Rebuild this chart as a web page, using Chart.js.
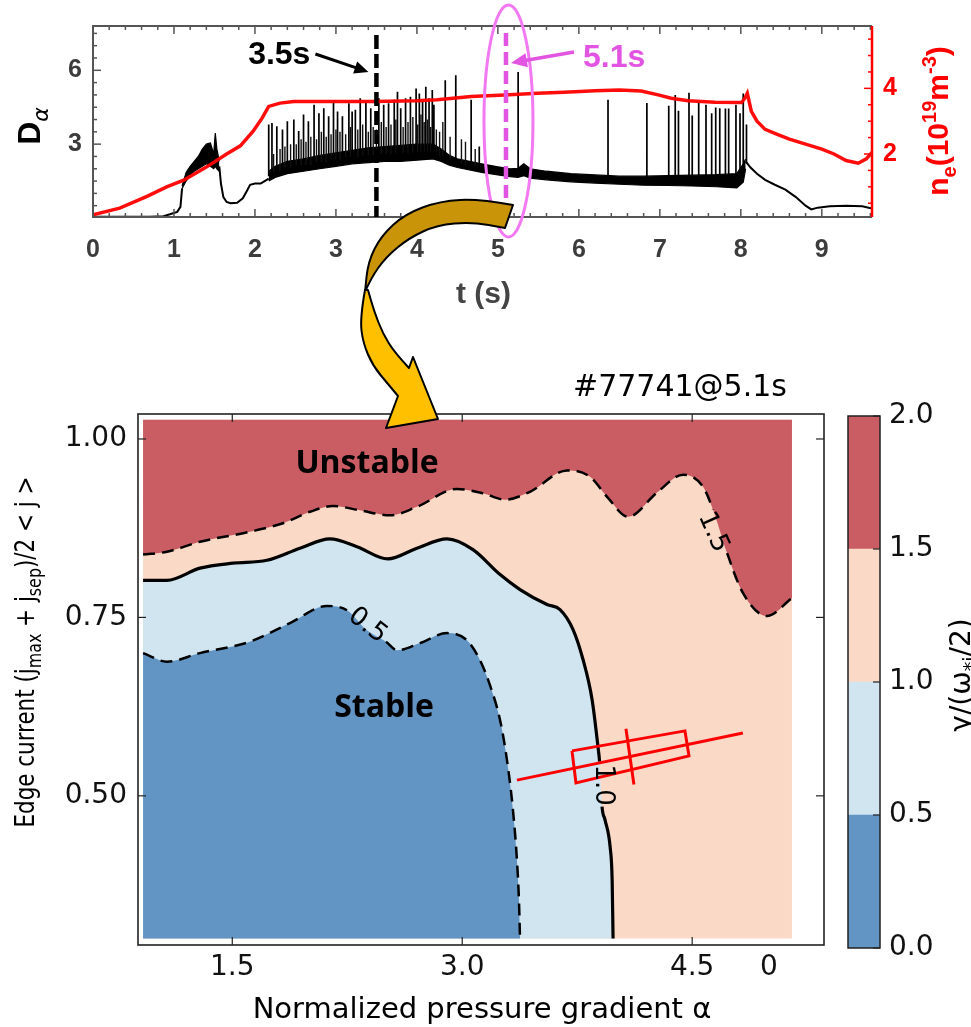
<!DOCTYPE html>
<html lang="en">
<head>
<meta charset="UTF-8">
<title>Dα trace and edge stability diagram</title>
<script src="https://cdn.jsdelivr.net/npm/chart.js@4.4.1/dist/chart.umd.min.js"></script>
<style>
  body { margin: 0; background: #fff; }
  #wrap { position: relative; width: 971px; height: 1027px; overflow: hidden; }
  canvas { position: absolute; }
  #traceChart { left: 0; top: 0; }
  #mapChart { left: 0; top: 0; }
  #barChart { left: 820px; top: 380px; }
</style>
</head>
<body>
<div id="wrap">
  <canvas id="traceChart" width="971" height="320"></canvas>
  <canvas id="mapChart" width="971" height="1027"></canvas>
  <canvas id="barChart" width="151" height="620"></canvas>
</div>

<script>
// ---------- top panel: D-alpha and line density vs time ----------
const timeTicks = [0, 1, 2, 3, 4, 5, 6, 7, 8, 9];
const dalphaTicks = [3, 6];
const neTicks = [2, 4];
const markTimes = [3.5, 5.1];
const markNames = ['3.5s', '5.1s'];

// line-averaged density (10^19 m^-3)
const neTime = [0, 0.33, 0.66, 0.91, 1.12, 1.4, 1.65, 1.82, 1.98, 2.09, 2.17, 2.31, 2.48, 3.0, 3.47, 4.0, 4.25, 4.67, 5.08, 5.49, 5.82, 6.2, 6.5, 6.77, 6.98, 7.14, 7.35, 7.68, 8.01, 8.05, 8.08, 8.13, 8.2, 8.3, 8.45, 8.6, 8.8, 9.0, 9.15, 9.3, 9.45, 9.55, 9.62];
const neValue = [0.15, 0.35, 0.7, 1.0, 1.2, 1.6, 2.0, 2.25, 2.7, 3.1, 3.45, 3.55, 3.6, 3.6, 3.6, 3.62, 3.65, 3.75, 3.8, 3.85, 3.88, 3.93, 3.95, 3.92, 3.8, 3.7, 3.62, 3.58, 3.57, 3.7, 3.85, 3.3, 3.0, 2.75, 2.6, 2.45, 2.3, 2.15, 2.0, 1.8, 1.72, 1.85, 2.05];

// D-alpha, quiet parts of the trace
const earlyTime = [0, 0.7, 0.87, 0.95, 1.04, 1.08, 1.1];
const earlyDa = [0.05, 0.05, 0.07, 0.15, 0.25, 0.45, 1.2];
const dipTime = [1.56, 1.58, 1.61, 1.65, 1.7, 1.78, 1.85, 1.9, 1.94, 2.0, 2.07, 2.12, 2.17];
const dipDa = [2.1, 1.4, 0.85, 0.65, 0.6, 0.62, 0.8, 1.1, 1.35, 1.4, 1.4, 1.5, 1.6];
const tailTime = [8.06, 8.12, 8.2, 8.3, 8.42, 8.55, 8.68, 8.8, 8.87, 8.95, 9.1, 9.3, 9.5, 9.62];
const tailDa = [2.3, 2.05, 1.8, 1.55, 1.35, 1.15, 0.85, 0.5, 0.35, 0.42, 0.48, 0.5, 0.48, 0.38];

// D-alpha, noisy bands (lower / upper envelope)
const lmodeTime = [1.1, 1.15, 1.2, 1.25, 1.3, 1.35, 1.4, 1.45, 1.49, 1.51, 1.53, 1.56];
const lmodeLow = [1.2, 1.5, 1.75, 1.9, 2.0, 2.1, 2.2, 2.1, 2.0, 2.1, 2.0, 1.9];
const lmodeHigh = [1.3, 1.85, 2.1, 2.3, 2.5, 2.8, 3.0, 3.05, 2.6, 3.45, 2.8, 2.3];
const hmodeTime = [2.17, 2.25, 2.4, 2.6, 2.8, 3.0, 3.2, 3.4, 3.6, 3.8, 4.0, 4.2, 4.3, 4.4, 4.5, 4.65, 4.8, 5.0, 5.15, 5.25, 5.32, 5.4, 5.6, 5.9, 6.2, 6.5, 6.8, 7.1, 7.4, 7.7, 7.95, 8.03, 8.06];
const hmodeLow = [1.5, 1.65, 1.8, 1.9, 2.0, 2.1, 2.2, 2.25, 2.3, 2.3, 2.35, 2.4, 2.3, 2.15, 2.05, 1.95, 1.85, 1.75, 1.68, 1.65, 1.72, 1.62, 1.55, 1.47, 1.42, 1.37, 1.33, 1.32, 1.3, 1.27, 1.22, 1.45, 2.0];
const hmodeHigh = [1.9, 2.1, 2.3, 2.4, 2.55, 2.65, 2.75, 2.85, 2.9, 2.95, 3.0, 3.0, 2.8, 2.55, 2.4, 2.3, 2.2, 2.08, 2.0, 2.02, 2.2, 2.0, 1.9, 1.8, 1.75, 1.7, 1.7, 1.72, 1.74, 1.76, 1.8, 2.2, 2.4];

// ELM spikes: time and peak height
const elmTime = [2.17, 2.21, 2.27, 2.34, 2.40, 2.48, 2.54, 2.60, 2.66, 2.73, 2.79, 2.85, 2.91, 2.97, 3.02, 3.08, 3.16, 3.20, 3.24, 3.30, 3.37, 3.43, 3.53, 3.59, 3.65, 3.72, 3.76, 3.80, 3.86, 3.92, 3.99, 4.03, 4.07, 4.11, 4.15, 4.19, 4.21, 4.35, 4.48, 4.67, 4.77, 5.25, 6.36, 6.84, 7.11, 7.19, 7.23, 7.36, 7.40, 7.48, 7.57, 7.64, 7.69, 7.74, 7.81, 7.85, 7.94, 7.99, 8.03, 8.07];
const elmPeak = [3.8, 3.86, 3.73, 3.6, 3.93, 4.0, 3.53, 4.2, 3.93, 4.6, 4.26, 4.46, 4.13, 4.73, 4.33, 4.13, 4.66, 4.33, 4.4, 4.86, 4.73, 4.46, 4.86, 4.6, 4.66, 4.8, 5.13, 4.46, 4.86, 4.93, 5.26, 5.06, 4.73, 5.33, 4.86, 5.2, 4.6, 5.6, 5.8, 4.8, 2.9, 5.93, 4.8, 4.67, 4.56, 5.0, 4.36, 5.09, 4.16, 4.67, 4.6, 4.26, 4.49, 4.46, 4.45, 4.45, 4.6, 4.26, 5.06, 3.8];
// smaller bursts between the large ELMs
const grassTime = [2.23, 2.31, 2.37, 2.44, 2.51, 2.57, 2.63, 2.69, 2.76, 2.82, 2.88, 2.94, 3.0, 3.05, 3.12, 3.18, 3.27, 3.33, 3.40, 3.46, 3.50, 3.56, 3.62, 3.68, 3.74, 3.83, 3.89, 3.95, 4.01, 4.05, 4.09, 4.13, 4.17, 4.24, 4.28, 4.32, 4.41, 4.55, 4.6, 4.72];
const grassPeak = [2.6, 2.8, 2.9, 3.0, 3.0, 3.2, 3.1, 3.3, 3.2, 3.5, 3.3, 3.4, 3.6, 3.5, 3.4, 3.7, 3.6, 3.8, 3.5, 3.7, 3.6, 3.9, 3.7, 3.8, 4.0, 3.7, 3.9, 4.1, 3.8, 4.2, 3.9, 4.0, 3.7, 3.6, 3.5, 3.9, 3.3, 3.2, 3.1, 2.8];

// ---------- bottom panel: growth rate map ----------
const alphaTicks = [1.5, 3.0, 4.5, 5.0];
const currentTicks = [0.50, 0.75, 1.00];
const alphaExtent = [0.918, 5.151];
const currentExtent = [0.300, 1.027];
const levelBounds = [0, 0.5, 1.0, 1.5, 2.0];
const levelColors = ['#6294c4', '#d1e5f0', '#fad9c7', '#c95d63'];

const c15Alpha = [0.918, 1.074, 1.289, 1.615, 1.831, 2.007, 2.157, 2.333, 2.528, 2.705, 2.966, 3.135, 3.279, 3.442, 3.684, 3.834, 3.945, 4.082, 4.271, 4.441, 4.571, 4.636, 4.728, 4.832, 4.988, 5.151];
const c15Current = [0.838, 0.842, 0.856, 0.870, 0.882, 0.898, 0.906, 0.900, 0.893, 0.905, 0.930, 0.924, 0.915, 0.926, 0.956, 0.947, 0.919, 0.891, 0.925, 0.950, 0.933, 0.901, 0.840, 0.784, 0.752, 0.777];
const c10Alpha = [0.918, 1.074, 1.289, 1.504, 1.726, 1.942, 2.137, 2.313, 2.515, 2.705, 2.901, 3.070, 3.247, 3.377, 3.553, 3.638, 3.723, 3.788, 3.847, 3.886, 3.896, 3.912, 3.932, 3.965, 3.978, 3.984];
const c10Current = [0.802, 0.802, 0.819, 0.826, 0.830, 0.847, 0.860, 0.849, 0.832, 0.847, 0.860, 0.845, 0.810, 0.789, 0.768, 0.761, 0.733, 0.691, 0.635, 0.568, 0.548, 0.485, 0.466, 0.428, 0.382, 0.300];
const c05Alpha = [0.918, 1.074, 1.289, 1.615, 1.876, 2.117, 2.248, 2.378, 2.503, 2.574, 2.724, 2.901, 3.031, 3.116, 3.181, 3.247, 3.292, 3.331, 3.357, 3.370, 3.377];
const c05Current = [0.700, 0.688, 0.700, 0.716, 0.742, 0.766, 0.760, 0.732, 0.716, 0.704, 0.714, 0.728, 0.718, 0.690, 0.655, 0.606, 0.550, 0.480, 0.410, 0.354, 0.300];

const labelText = ['0.5', '1.0', '1.5'];
const labelAlpha = [2.385, 3.925, 4.642];
const labelCurrent = [0.7395, 0.515, 0.870];
const labelAngle = [38, 90, 66];

// operating point with error box
const pointLineAlpha = [3.357, 4.831];
const pointLineCurrent = [0.522, 0.588];
const pointBoxAlpha = [3.716, 4.453, 4.479, 3.742, 3.716];
const pointBoxCurrent = [0.563, 0.591, 0.556, 0.518, 0.563];
const pointBarAlpha = [4.068, 4.120];
const pointBarCurrent = [0.594, 0.516];

// ---------- helpers ----------
const xy = (xs, ys) => xs.map((v, i) => ({ x: v, y: ys[i] }));

// draws a run of differently-sized pieces centred on x; fitWidth squeezes it along the baseline
function richText(ctx, parts, x, y, fitWidth) {
  let w = 0;
  parts.forEach(p => { ctx.font = p.font; p.w = ctx.measureText(p.t).width; w += p.w; });
  ctx.save();
  ctx.translate(x, y);
  if (fitWidth) ctx.scale(fitWidth / w, 1);
  let cx = -w / 2;
  ctx.textAlign = 'left';
  ctx.textBaseline = 'alphabetic';
  parts.forEach(p => { ctx.font = p.font; ctx.fillText(p.t, cx, p.dy || 0); cx += p.w; });
  ctx.restore();
}

function arrowLine(ctx, x0, y0, x1, y1, color, width, head) {
  const ang = Math.atan2(y1 - y0, x1 - x0);
  ctx.strokeStyle = color; ctx.fillStyle = color; ctx.lineWidth = width;
  ctx.setLineDash([]);
  ctx.beginPath();
  ctx.moveTo(x0, y0);
  ctx.lineTo(x1 - Math.cos(ang) * head * 0.8, y1 - Math.sin(ang) * head * 0.8);
  ctx.stroke();
  ctx.beginPath();
  ctx.moveTo(x1, y1);
  ctx.lineTo(x1 - head * Math.cos(ang) + head * 0.45 * Math.sin(ang), y1 - head * Math.sin(ang) - head * 0.45 * Math.cos(ang));
  ctx.lineTo(x1 - head * Math.cos(ang) - head * 0.45 * Math.sin(ang), y1 - head * Math.sin(ang) + head * 0.45 * Math.cos(ang));
  ctx.closePath();
  ctx.fill();
}

function curveThrough(ctx, pts) {
  for (let i = 1; i < pts.length - 1; i++) {
    const mx = (pts[i][0] + pts[i + 1][0]) / 2, my = (pts[i][1] + pts[i + 1][1]) / 2;
    ctx.quadraticCurveTo(pts[i][0], pts[i][1], mx, my);
  }
  const last = pts[pts.length - 1];
  ctx.lineTo(last[0], last[1]);
}

// nearest band sample, used as the foot of each spike
function bandMid(t) {
  let best = 0;
  hmodeTime.forEach((v, i) => { if (Math.abs(v - t) < Math.abs(hmodeTime[best] - t)) best = i; });
  return (hmodeLow[best] + hmodeHigh[best]) / 2;
}

function spikeSeries(times, peaks) {
  const pts = [];
  times.forEach((t, i) => pts.push({ x: t, y: bandMid(t) }, { x: t, y: peaks[i] }, { x: t, y: null }));
  return pts;
}

const quietPoints = [];
[[earlyTime, earlyDa], [dipTime, dipDa], [tailTime, tailDa]].forEach(([ts, ds]) => {
  ts.forEach((t, i) => quietPoints.push({ x: t, y: ds[i] }));
  quietPoints.push({ x: ts[ts.length - 1], y: null });
});

const ARIAL = '"Liberation Sans", Arial, sans-serif';
const DEJAVU = '"DejaVu Sans", sans-serif';
const MAGENTA = '#e254e2';

const setTicks = vals => scale => { scale.ticks = vals.map(v => ({ value: v })); };

// ---------- top panel decorations ----------
const traceDecor = {
  id: 'traceDecor',
  afterDraw(chart) {
    const { ctx, chartArea: a, scales: { x, y, ne } } = chart;
    ctx.save();
    const tick = (px, py, dx, dy) => { ctx.beginPath(); ctx.moveTo(px, py); ctx.lineTo(px + dx, py + dy); ctx.stroke(); };

    // inward ticks
    ctx.strokeStyle = '#555'; ctx.lineWidth = 1.5;
    for (let k = 0; k * 0.2 <= x.max; k++) {
      const px = x.getPixelForValue(k * 0.2);
      const len = k % 5 === 0 ? 8 : 4;
      tick(px, a.bottom, 0, -len); tick(px, a.top, 0, len);
    }
    for (let k = 1; k * 0.5 < y.max; k++) {
      const py = y.getPixelForValue(k * 0.5);
      tick(a.left, py, dalphaTicks.includes(k * 0.5) ? 8 : 4, 0);
    }
    ctx.strokeStyle = '#ff0000';
    for (let k = 1; k * 0.5 < ne.max; k++) {
      const py = ne.getPixelForValue(k * 0.5);
      tick(a.right, py, neTicks.includes(k * 0.5) ? -8 : -4, 0);
    }

    // frame
    ctx.lineWidth = 2; ctx.strokeStyle = '#555';
    ctx.beginPath();
    ctx.moveTo(a.right, a.top); ctx.lineTo(a.left, a.top); ctx.lineTo(a.left, a.bottom); ctx.lineTo(a.right, a.bottom);
    ctx.stroke();
    ctx.strokeStyle = '#ff0000'; ctx.lineWidth = 2.5;
    ctx.beginPath(); ctx.moveTo(a.right, a.top); ctx.lineTo(a.right, a.bottom); ctx.stroke();

    // time markers
    const x35 = x.getPixelForValue(markTimes[0]);
    const x51 = x.getPixelForValue(markTimes[1]);
    ctx.lineWidth = 4.5;
    ctx.strokeStyle = '#000'; ctx.setLineDash([14, 5]);
    ctx.beginPath(); ctx.moveTo(x35, a.top + 9); ctx.lineTo(x35, a.bottom); ctx.stroke();
    ctx.strokeStyle = MAGENTA; ctx.setLineDash([13, 6]);
    ctx.beginPath(); ctx.moveTo(x51, a.top + 7); ctx.lineTo(x51, a.bottom - 19); ctx.stroke();
    ctx.setLineDash([]);

    ctx.strokeStyle = '#f279f2'; ctx.lineWidth = 3;
    ctx.beginPath(); ctx.ellipse(x51 + 2.5, 121, 24.5, 116, 0, 0, Math.PI * 2); ctx.stroke();

    ctx.font = 'bold 32px ' + ARIAL;
    ctx.textBaseline = 'alphabetic';
    ctx.fillStyle = '#000'; ctx.textAlign = 'right';
    ctx.fillText(markNames[0], x35 - 66, 64);
    arrowLine(ctx, x35 - 61, 54, x35 - 8, 72, '#000', 3, 14);
    ctx.fillStyle = MAGENTA; ctx.textAlign = 'left';
    ctx.font = 'bold 32px ' + ARIAL;
    ctx.fillText(markNames[1], x51 + 77, 67);
    arrowLine(ctx, x51 + 68, 52, x51 + 5, 63, MAGENTA, 3.5, 16);

    // axis titles
    ctx.fillStyle = '#444'; ctx.textAlign = 'center';
    ctx.font = 'bold 30px ' + ARIAL;
    ctx.fillText('t (s)', (a.left + a.right) / 2 + 1, 303);

    ctx.save();
    ctx.translate(40, 126); ctx.rotate(-Math.PI / 2);
    ctx.fillStyle = '#000';
    richText(ctx, [
      { t: 'D', font: 'bold 32px ' + ARIAL },
      { t: 'α', font: 'italic 22px ' + DEJAVU, dy: 8 }
    ], 0, 0);
    ctx.restore();

    ctx.save();
    ctx.translate(948, 121); ctx.rotate(-Math.PI / 2);
    ctx.fillStyle = '#ff0000';
    const big = 'bold 30px ' + ARIAL, small = 'bold 20px ' + ARIAL;
    richText(ctx, [
      { t: 'n', font: big }, { t: 'e', font: small, dy: 8 },
      { t: '(10', font: big }, { t: '19', font: small, dy: -12 },
      { t: 'm', font: big }, { t: '-3', font: small, dy: -12 },
      { t: ')', font: big }
    ], 0, 0);
    ctx.restore();
    ctx.restore();
  }
};

new Chart(document.getElementById('traceChart'), {
  type: 'line',
  data: {
    datasets: [
      { data: xy(neTime, neValue), yAxisID: 'ne', borderColor: 'rgba(255,0,0,0.95)', borderWidth: 3.5, order: 0 },
      { data: spikeSeries(elmTime, elmPeak), yAxisID: 'y', borderColor: '#000', borderWidth: 1.7, spanGaps: false, order: 1 },
      { data: spikeSeries(grassTime, grassPeak), yAxisID: 'y', borderColor: '#111', borderWidth: 1.4, spanGaps: false, order: 1 },
      { data: xy(hmodeTime, hmodeLow), yAxisID: 'y', borderColor: '#000', borderWidth: 1.2, order: 2 },
      { data: xy(hmodeTime, hmodeHigh), yAxisID: 'y', borderColor: '#000', borderWidth: 1.2, fill: '-1', backgroundColor: '#000', order: 2 },
      { data: xy(lmodeTime, lmodeLow), yAxisID: 'y', borderColor: '#000', borderWidth: 1.2, order: 2 },
      { data: xy(lmodeTime, lmodeHigh), yAxisID: 'y', borderColor: '#000', borderWidth: 1.2, fill: '-1', backgroundColor: '#000', order: 2 },
      { data: quietPoints, yAxisID: 'y', borderColor: '#000', borderWidth: 2, spanGaps: false, order: 2 }
    ]
  },
  options: {
    responsive: false,
    animation: false,
    events: [],
    elements: { point: { radius: 0 }, line: { tension: 0 } },
    layout: { padding: { top: 23, left: 0, right: 0, bottom: 0 } },
    plugins: { legend: { display: false }, tooltip: { enabled: false } },
    scales: {
      x: {
        type: 'linear', min: 0, max: 9.62,
        afterBuildTicks: setTicks(timeTicks),
        afterFit: s => { s.height = 320 - 217; },
        grid: { display: false, drawTicks: false }, border: { display: false },
        ticks: { font: { family: ARIAL, size: 25, weight: 'bold' }, color: '#3c3c3c', padding: 18, maxRotation: 0 }
      },
      y: {
        position: 'left', min: 0.04, max: 7.8,
        afterBuildTicks: setTicks(dalphaTicks),
        afterFit: s => { s.width = 93; },
        grid: { display: false, drawTicks: false }, border: { display: false },
        ticks: { font: { family: ARIAL, size: 25, weight: 'bold' }, color: '#3c3c3c', padding: 11 }
      },
      ne: {
        position: 'right', min: 0.08, max: 5.9,
        afterBuildTicks: setTicks(neTicks),
        afterFit: s => { s.width = 971 - 872; },
        grid: { display: false, drawTicks: false }, border: { display: false },
        ticks: { font: { family: ARIAL, size: 25, weight: 'bold' }, color: '#ff0000', padding: 11 }
      }
    }
  },
  plugins: [traceDecor]
});

// ---------- bottom panel ----------
// contour lines break where their level label sits
const LABEL_GAP = 24;
const gapSegment = {
  borderColor: c => {
    const { x, y } = c.chart.scales;
    const mx = (c.p0.x + c.p1.x) / 2, my = (c.p0.y + c.p1.y) / 2;
    for (let k = 0; k < labelText.length; k++) {
      const lx = x.getPixelForValue(labelAlpha[k]), ly = y.getPixelForValue(labelCurrent[k]);
      if (Math.hypot(mx - lx, my - ly) < LABEL_GAP) return 'rgba(0,0,0,0)';
    }
    return '#000';
  }
};

const mapDecor = {
  id: 'mapDecor',
  afterDraw(chart) {
    const { ctx, chartArea: a, scales: { x, y } } = chart;
    ctx.save();
    const tick = (px, py, dx, dy) => { ctx.beginPath(); ctx.moveTo(px, py); ctx.lineTo(px + dx, py + dy); ctx.stroke(); };
    ctx.strokeStyle = '#222'; ctx.lineWidth = 1.2;
    alphaTicks.slice(0, 3).forEach(v => { const px = x.getPixelForValue(v); tick(px, a.bottom, 0, -8); tick(px, a.top, 0, 8); });
    currentTicks.forEach(v => { const py = y.getPixelForValue(v); tick(a.left, py, 8, 0); tick(a.right, py, -8, 0); });
    ctx.lineWidth = 1.6;
    ctx.strokeRect(a.left, a.top, a.right - a.left, a.bottom - a.top);

    // contour level labels
    ctx.fillStyle = '#000';
    ctx.font = '26px ' + DEJAVU;
    ctx.textAlign = 'center'; ctx.textBaseline = 'middle';
    labelText.forEach((t, k) => {
      ctx.save();
      ctx.translate(x.getPixelForValue(labelAlpha[k]), y.getPixelForValue(labelCurrent[k]));
      ctx.rotate(labelAngle[k] * Math.PI / 180);
      ctx.fillText(t, 0, 1);
      ctx.restore();
    });

    // region names
    ctx.textBaseline = 'alphabetic';
    ctx.font = 'bold 32px "Open Sans", sans-serif';
    ctx.fillText('Unstable', x.getPixelForValue(2.379), 473);
    ctx.fillText('Stable', x.getPixelForValue(2.49), 717);

    // title and axis titles
    ctx.font = '30px ' + DEJAVU;
    ctx.fillText('#77741@5.1s', 680, 396);
    ctx.font = '29px ' + DEJAVU;
    ctx.fillText('Normalized pressure gradient α', 482, 1018);
    ctx.save();
    ctx.translate(34, 652); ctx.rotate(-Math.PI / 2);
    const f = '27px ' + DEJAVU, fs = '20px ' + DEJAVU;
    richText(ctx, [
      { t: 'Edge current (j', font: f }, { t: 'max', font: fs, dy: 7 },
      { t: ' + j', font: f }, { t: 'sep', font: fs, dy: 7 },
      { t: ')/2 < j >', font: f }
    ], 0, 0, 351);
    ctx.restore();

    // curved arrow linking the two panels
    ctx.lineWidth = 2; ctx.strokeStyle = '#000'; ctx.lineJoin = 'round';
    ctx.fillStyle = '#c99408';
    ctx.beginPath();
    ctx.moveTo(513, 205);
    curveThrough(ctx, [[513, 205], [480, 199], [440, 201], [405, 214], [381, 236], [368, 262], [365, 292]]);
    curveThrough(ctx, [[365, 292], [371, 278], [386, 257], [409, 238], [437, 225], [472, 222], [505, 228]]);
    ctx.closePath(); ctx.fill(); ctx.stroke();

    ctx.fillStyle = '#ffc000';
    ctx.beginPath();
    ctx.moveTo(365, 290);
    curveThrough(ctx, [[365, 290], [360, 318], [363, 343], [373, 366], [388, 384], [398, 396]]);
    ctx.lineTo(386, 428); ctx.lineTo(438, 419); ctx.lineTo(413, 357); ctx.lineTo(409, 368);
    curveThrough(ctx, [[409, 368], [395, 353], [383, 334], [374, 311], [368, 290]]);
    ctx.closePath(); ctx.fill(); ctx.stroke();
    ctx.restore();
  }
};

const fillBase = { value: currentExtent[0] };
const fillStyle = { borderWidth: 0, cubicInterpolationMode: 'monotone' };
const lineStyle = { fill: false, borderColor: '#000', segment: gapSegment, cubicInterpolationMode: 'monotone', order: 2 };
new Chart(document.getElementById('mapChart'), {
  type: 'line',
  data: {
    datasets: [
      // operating point
      { data: xy(pointBarAlpha, pointBarCurrent), borderColor: '#ff0000', borderWidth: 3, order: 1 },
      { data: xy(pointBoxAlpha, pointBoxCurrent), borderColor: '#ff0000', borderWidth: 3, order: 1 },
      { data: xy(pointLineAlpha, pointLineCurrent), borderColor: '#ff0000', borderWidth: 3, order: 1 },
      // contour lines
      { data: xy(c05Alpha, c05Current), borderWidth: 2.5, borderDash: [12, 7], ...lineStyle },
      { data: xy(c10Alpha, c10Current), borderWidth: 3.2, ...lineStyle },
      { data: xy(c15Alpha, c15Current), borderWidth: 2.5, borderDash: [12, 7], ...lineStyle },
      // filled levels
      { data: xy(c05Alpha, c05Current), fill: fillBase, backgroundColor: levelColors[0], ...fillStyle, order: 7 },
      { data: xy(c10Alpha, c10Current), fill: fillBase, backgroundColor: levelColors[1], ...fillStyle, order: 8 },
      { data: xy(c15Alpha, c15Current), fill: { value: currentExtent[1] }, backgroundColor: levelColors[3], ...fillStyle, order: 9 },
      { data: xy(alphaExtent, [currentExtent[1], currentExtent[1]]), fill: fillBase, backgroundColor: levelColors[2], borderWidth: 0, order: 10 }
    ]
  },
  options: {
    responsive: false,
    animation: false,
    events: [],
    elements: { point: { radius: 0 }, line: { tension: 0 } },
    layout: { padding: { top: 414, left: 0, right: 971 - 824, bottom: 0 } },
    plugins: { legend: { display: false }, tooltip: { enabled: false } },
    scales: {
      x: {
        type: 'linear', min: 0.885, max: 5.36,
        afterBuildTicks: setTicks(alphaTicks),
        afterFit: s => { s.height = 1027 - 945; },
        grid: { display: false, drawTicks: false }, border: { display: false },
        ticks: { font: { family: DEJAVU, size: 28 }, color: '#111', padding: 6, maxRotation: 0,
                 callback: v => (v === 5 ? '0' : v.toFixed(1)) }
      },
      y: {
        type: 'linear', min: 0.291, max: 1.035,
        afterBuildTicks: setTicks(currentTicks),
        afterFit: s => { s.width = 138; },
        grid: { display: false, drawTicks: false }, border: { display: false },
        ticks: { font: { family: DEJAVU, size: 28 }, color: '#111', padding: 11, callback: v => v.toFixed(2) }
      }
    }
  },
  plugins: [mapDecor]
});

// ---------- colorbar ----------
const barDecor = {
  id: 'barDecor',
  afterDraw(chart) {
    const { ctx, chartArea: a, scales: { y } } = chart;
    ctx.save();
    ctx.strokeStyle = '#222'; ctx.lineWidth = 1.5;
    ctx.strokeRect(a.left, a.top, a.right - a.left, a.bottom - a.top);
    ctx.lineWidth = 1.2;
    levelBounds.forEach(v => {
      const py = y.getPixelForValue(v);
      ctx.beginPath(); ctx.moveTo(a.right, py); ctx.lineTo(a.right - 7, py); ctx.stroke();
    });
    ctx.fillStyle = '#000';
    ctx.translate(150, 295); ctx.rotate(-Math.PI / 2);
    const f = '28px ' + DEJAVU, fs = '19px ' + DEJAVU;
    richText(ctx, [
      { t: 'γ/(ω', font: f }, { t: '*i', font: fs, dy: 7 }, { t: '/2)', font: f }
    ], 0, 0);
    ctx.restore();
  }
};

new Chart(document.getElementById('barChart'), {
  type: 'bar',
  data: {
    labels: [''],
    datasets: levelColors.map((c, i) => ({
      data: [levelBounds[i + 1] - levelBounds[i]],
      backgroundColor: c, borderWidth: 0, barPercentage: 1, categoryPercentage: 1
    }))
  },
  options: {
    responsive: false,
    animation: false,
    events: [],
    layout: { padding: { left: 28, top: 36, bottom: 52, right: 0 } },
    plugins: { legend: { display: false }, tooltip: { enabled: false } },
    scales: {
      x: { display: false, stacked: true },
      y: {
        stacked: true, position: 'right', min: 0, max: 2,
        afterBuildTicks: setTicks(levelBounds),
        afterFit: s => { s.width = 91; },
        grid: { display: false, drawTicks: false }, border: { display: false },
        ticks: { font: { family: DEJAVU, size: 28 }, color: '#111', padding: 9, callback: v => v.toFixed(1) }
      }
    }
  },
  plugins: [barDecor]
});
</script>
</body>
</html>
